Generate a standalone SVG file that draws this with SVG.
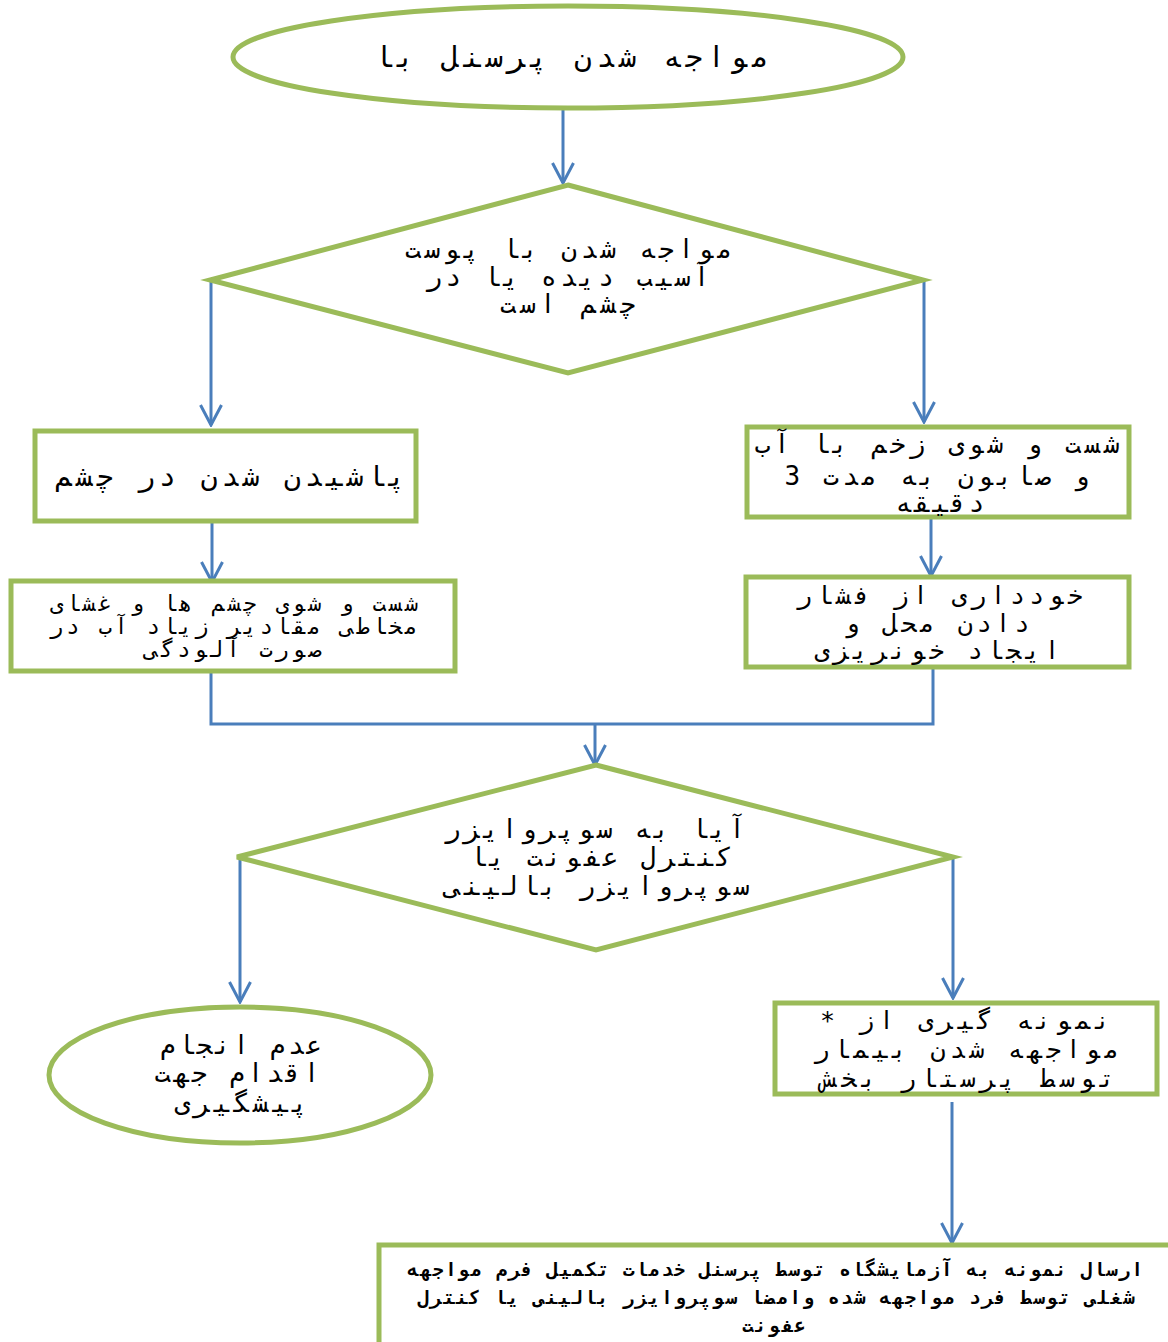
<svg xmlns="http://www.w3.org/2000/svg" width="1168" height="1342" viewBox="0 0 1168 1342">
<style>
.shape{fill:#ffffff;stroke:#9BBB59;stroke-width:5}
.conn{fill:none;stroke:#4A7EBB;stroke-width:3}
.t{font-family:"DejaVu Sans Mono","Noto Sans",monospace;fill:#000;text-anchor:middle;direction:rtl}
.b{font-weight:bold}
</style>
<defs>
<marker id="arr" viewBox="0 0 24 24" refX="22" refY="12" markerWidth="24" markerHeight="24" markerUnits="userSpaceOnUse" orient="auto">
<polyline points="2,1.5 22,12 2,22.5" fill="none" stroke="#4A7EBB" stroke-width="3"/>
</marker>
</defs>
<rect width="1168" height="1342" fill="#fff"/>
<g id="connectors">
<line class="conn" x1="563" y1="108" x2="563" y2="183" marker-end="url(#arr)"/>
<line class="conn" x1="211" y1="280" x2="211" y2="425" marker-end="url(#arr)"/>
<line class="conn" x1="924" y1="280" x2="924" y2="422" marker-end="url(#arr)"/>
<line class="conn" x1="212" y1="522" x2="212" y2="582" marker-end="url(#arr)"/>
<line class="conn" x1="931" y1="518" x2="931" y2="576" marker-end="url(#arr)"/>
<polyline class="conn" points="211,672 211,724 933,724 933,667"/>
<line class="conn" x1="595" y1="724" x2="595" y2="765" marker-end="url(#arr)"/>
<line class="conn" x1="240" y1="857" x2="240" y2="1002" marker-end="url(#arr)"/>
<line class="conn" x1="953" y1="857" x2="953" y2="998" marker-end="url(#arr)"/>
<line class="conn" x1="952" y1="1102" x2="952" y2="1243" marker-end="url(#arr)"/>
</g>
<g id="start">
<ellipse class="shape" cx="568" cy="57" rx="335" ry="51"/>
<text class="t" x="572" y="67" font-size="29" textLength="395" lengthAdjust="spacing">مواجه شدن پرسنل با</text>
</g>
<g id="decision1">
<polygon class="shape" points="568,185 923,280 568,373 210,280"/>
<text class="t" font-size="26"><tspan x="569" y="258" textLength="328" lengthAdjust="spacing">مواجه شدن با پوست</tspan><tspan x="568" y="286" textLength="283" lengthAdjust="spacing">آسیب دیده یا در</tspan><tspan x="568" y="313" textLength="136" lengthAdjust="spacing">چشم است</tspan></text>
</g>
<g id="eye">
<rect class="shape" x="35" y="431" width="381" height="90"/>
<text class="t" x="230" y="486" font-size="28" textLength="350" lengthAdjust="spacing">پاشیدن شدن در چشم</text>
</g>
<g id="wound">
<rect class="shape" x="747" y="427" width="382" height="90"/>
<text class="t" font-size="26"><tspan x="937" y="453" textLength="365" lengthAdjust="spacing">شست و شوی زخم با آب</tspan><tspan x="937" y="485" textLength="305" lengthAdjust="spacing">و صابون به مدت 3</tspan><tspan x="940" y="512" textLength="89" lengthAdjust="spacing">دقیقه</tspan></text>
</g>
<g id="eyewash">
<rect class="shape" x="11" y="581" width="444" height="90"/>
<text class="t" font-size="22"><tspan x="234" y="611" textLength="368" lengthAdjust="spacing">شست و شوی چشم ها و غشای</tspan><tspan x="234" y="634" textLength="368" lengthAdjust="spacing">مخاطی مقادیر زیاد آب در</tspan><tspan x="233" y="657" textLength="177" lengthAdjust="spacing">صورت آلودگی</tspan></text>
</g>
<g id="pressure">
<rect class="shape" x="746" y="577" width="383" height="90"/>
<text class="t" font-size="25"><tspan x="940" y="604" textLength="286" lengthAdjust="spacing">خودداری از فشار</tspan><tspan x="937" y="632" textLength="185" lengthAdjust="spacing">دادن محل و</tspan><tspan x="937" y="659" textLength="245" lengthAdjust="spacing">ایجاد خونریزی</tspan></text>
</g>
<g id="decision2">
<polygon class="shape" points="596,765 953,857 596,950 237,857"/>
<text class="t" font-size="26"><tspan x="595" y="838" textLength="300" lengthAdjust="spacing">آیا به سوپروایزر</tspan><tspan x="601" y="866" textLength="262" lengthAdjust="spacing">کنترل عفونت یا</tspan><tspan x="597" y="895" textLength="305" lengthAdjust="spacing">سوپروایزر بالینی</tspan></text>
</g>
<g id="noaction">
<ellipse class="shape" cx="240" cy="1075" rx="191" ry="68"/>
<text class="t" font-size="26"><tspan x="241" y="1054" textLength="162" lengthAdjust="spacing">عدم انجام</tspan><tspan x="237" y="1082" textLength="165" lengthAdjust="spacing">اقدام جهت</tspan><tspan x="241" y="1112" textLength="133" lengthAdjust="spacing">پیشگیری</tspan></text>
</g>
<g id="sampling">
<rect class="shape" x="775" y="1003" width="382" height="91"/>
<text class="t" font-size="25"><tspan x="965" y="1029" textLength="290" lengthAdjust="spacing">نمونه گیری از *</tspan><tspan x="967" y="1058" textLength="305" lengthAdjust="spacing">مواجهه شدن بیمار</tspan><tspan x="968" y="1087" textLength="293" lengthAdjust="spacing">توسط پرستار بخش</tspan></text>
</g>
<g id="lab">
<rect class="shape" x="379" y="1245" width="800" height="100"/>
<text class="t b" font-size="19"><tspan x="775" y="1276" textLength="736" lengthAdjust="spacing">ارسال نمونه به آزمایشگاه توسط پرسنل خدمات تکمیل فرم مواجهه</tspan><tspan x="776" y="1304" textLength="717" lengthAdjust="spacing">شغلی توسط فرد مواجهه شده وامضا سوپروایزر بالینی یا کنترل</tspan><tspan x="774" y="1332" textLength="64" lengthAdjust="spacing">عفونت</tspan></text>
</g>
</svg>
